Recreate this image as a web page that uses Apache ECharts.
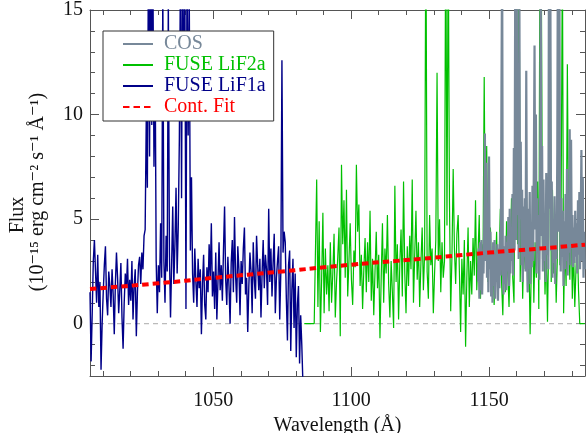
<!DOCTYPE html>
<html>
<head>
<meta charset="utf-8">
<script src="https://cdn.jsdelivr.net/npm/echarts@6/dist/echarts.min.js"></script>
<style>
  html, body { margin: 0; padding: 0; background: #fff; }
  #chart { width: 586px; height: 433px; }
</style>
</head>
<body>
<div id="chart"></div>
<script>
// wavelength grid of each spectrum: start (Å) and step (Å)
const lif1aStart = 1005.3;
const lif1aStep = 0.4;
const lif1aFlux = [
  1.5, -1.8, 0.5, 3.0, 4.0, 2.5, 1.0, 3.3, 0.8, 2.0,
  -2.2, 0.0, 1.5, 2.8, 3.7, 1.2, 0.4, 2.5, 1.8,
  0.8, 2.6, 1.4, -0.5, 1.9, 3.4, 2.2, 0.5, 1.6,
  2.9, 0.3, -1.2, 1.0, 2.4, 1.7, 3.1, 0.9, 2.1,
  1.1, 3.0, 0.2, 1.8, 2.6, -0.6, 1.5, 2.8, 3.2,
  1.9, 3.4, 2.6, 4.2,
  4.5, 9.8, 6.5, 18, 8.0, 20, 9.5, 17, 7.5, 13, 3.0,
  0.5, 2.8,
  1.5, 4.8, 2.2, 16, 3.0, 1.0, 4.2, 2.5, 15.5, 3.4, 0.3, 2.8, 5.6, 1.9, 3.8, 6.5, 2.4, 4.6,
  8.8, 17, 6.0, 19, 10, 16, 0.7, 18, 9.0, 15.5, 3.5, 7.0,
  2.4, 1.0, 3.6, 2.0, 0.8, 3.1, 1.7, 2.6, -0.5,
  1.9, 3.3, 0.9, 0.2, 2.7, 1.5, 3.8, 2.2, 4.8, 1.3,
  2.5, 0.7, 3.4, 0.2, 2.0, 3.9, 1.6, 2.8, 1.1, 3.5,
  5.6, 2.1, 0.9, 3.2, 1.8, 0.0, 2.9, 4.0, 1.5, 5.1,
  2.3, 1.0, 3.7, 2.6, 0.4, 3.0, 1.9, 3.6, 4.6, 1.4,
  2.2, -0.4, 1.8, 3.4, 2.5, 0.5, 3.9, 2.1, 1.2, 4.2,
  2.8, 1.6, 3.1, 0.3, 2.4, 4.0, 1.7, 3.3, 2.6, 0.9,
  5.5, 2.0, 3.6, 1.3, 2.9, 4.3, 0.5, 2.2, 3.0, 3.7,
  0.2, 2.5, 12.6,
  3.4, 4.4, 3.9, 1.2, -0.8, 2.8, 3.5, -1.3, 1.6, 3.1,
  -0.2, 2.4, -1.6, 0.9, 1.8, -1.9, 0.4, -1.0, -2.8
];

const lif2aStart = 1083.0;
const lif2aStep = 0.45;
const lif2aFlux = [
  0, 0, 0, 0, 0, 0, 0, 0, 0, 0,
  6.9,
  0.8, 4.9, -0.4, 2.1, 5.3, 0.5, 3.6, 1.4, 2.8, 0.6,
  3.9, 1.0, 2.4, 4.3, 0.3, 2.0, 3.2, 4.6, -0.6, 7.6,
  3.8, 5.9, 2.2, 6.4, 1.3, 3.0, 4.8, 2.1, 0.9, 3.5,
  2.7, 7.6, 4.4, 5.7, 1.8, 3.3, 0.7, 2.6, 4.1, 1.5,
  3.9, 2.0, 5.4, 1.1, 3.1, 0.4, 2.5, 4.4, 1.7, 3.3,
  -0.7, 2.2, 4.8, 1.0, 3.6, 2.4, 5.2, 1.9, 0.3, 3.0,
  1.5, -0.2, 6.6, 2.0, 3.8, 0.2, 2.9, 4.5, 1.3, 6.8,
  2.4, 0.5, 3.7, 1.8, 4.2, 2.6, 6.9, 1.0, 3.3, 5.4,
  2.1, 3.9, 0.8, 2.9, 4.6, 1.6, 3.4, 20, 2.5, 1.2,
  5.2, 2.8, 3.6, 0.5, 2.4, 4.0, 12.0, 3.0, 5.0, 1.5,
  3.9, 2.2, 3.0, 20, 4.7, 19, 5.8, 0.6, 3.2, 7.4,
  3.6, 1.9, 4.3, 5.2, 2.5, -0.4, 3.1, 1.4, 4.0, -1.1,
  2.2, 4.6, 0.8, 3.0, 1.4, 4.1, 2.3, 5.9, 1.6, 3.3,
  5.2, 1.2, 3.8, 2.6, 11.8, 3.1, 8.5, 2.0, 4.0, 4.6,
  1.9, 3.5, 0.9, 2.7, 4.4, 1.3, 3.0, 5.5, 2.0, 0.4,
  3.6, 1.5, 4.9, 2.4, 0.8, 3.3, 6.0, 2.2, 1.0, 7.9,
  18, 3.8, 20, 2.0, 5.5, 1.2, 4.0, 2.6, 6.3, 1.5,
  3.4, -0.5, 2.8, 5.1, 1.0, 3.9, 2.2, 6.8, 0.7, 20,
  17, 3.1, 5.0, 1.4, 3.6, 0.1, 4.2, 19, 2.0, 6.4,
  2.4, 4.5, 1.0, 3.3, 20, 2.8, 5.7, 18, 0.5, 3.9,
  1.8, 12.4, 4.4, 2.1, 5.6, 1.2, 3.5, 0.8, 2.7, 4.0, 1.6,
  0, 0, 0, 0, 0
];

const cosStart = 1146.0;
const cosStep = 0.25;
const cosFlux = [
  2.0, 3.6, 1.2, 3.9, 1.6, 4.0, 1.4, 3.2, 2.4, 4.5,
  9.1, 3.0, 7.7, 2.2, 5.8, 1.5, 8.0, 2.6, 4.4, 1.3,
  3.5, 1.0, 3.9, 1.8, 4.0, 1.2, 3.3, 2.0, 3.8, 1.1,
  3.6, 1.7, 4.4, 2.3, 11.0, 18, 3.0, 1.4, 3.7, 1.9,
  4.2, 1.6, 3.9, 2.5, 5.1, 1.8, 5.5, 2.4, 4.6, 3.0,
  6.2, 2.3, 8.4, 3.5, 17, 4.0, 20, 5.2, 7.8, 3.1,
  16, 5.0, 8.7, 2.8, 6.4, 2.0, 5.6, 3.2, 6.0, 2.5,
  12.1, 4.0, 1.5, 5.5, 2.6, 6.3, 1.9, 4.8, 2.7, 6.6,
  3.0, 7.5, 13.3, 4.5, 10.0, 2.4, 6.0, 3.4, 5.2, 2.1,
  5.8, 17, 4.2, 8.5, 2.5, 6.9, 3.0, 5.1, 2.0, 7.2,
  3.3, 6.5, 2.6, 19, 5.5, 16, 3.5, 6.8, 2.2, 5.0,
  2.9, 6.1, 1.9, 4.8, 3.1, 8.2, 20, 4.4, 17, 5.3,
  2.5, 6.0, 3.2, 5.4, 1.8, 4.9, 2.6, 6.2, 3.0, 7.4,
  2.3, 5.0, 3.4, 9.3, 2.8, 8.8, 3.6, 5.2, 2.7, 4.6,
  2.9, 5.4, 3.2, 4.8, 2.4, 5.9, 3.3, 6.3, 2.6, 5.0,
  8.3, 3.0, 7.0, 2.2, 4.4, 2.6
];

// continuum fit
const contWave = [1005.3, 1030, 1050, 1075, 1100, 1125, 1150, 1170, 1184.8];
const contFlux = [1.66, 1.93, 2.19, 2.50, 2.82, 3.10, 3.40, 3.61, 3.78];

// axis range and ticks
const xMin = 1005.3, xMax = 1184.8;
const yMin = -2.5, yMax = 15;
const xMajor = [1050, 1100, 1150];
const xMinor = [1010, 1020, 1030, 1040, 1060, 1070, 1080, 1090, 1110, 1120, 1130, 1140, 1160, 1170, 1180];
const yMajor = [0, 5, 10, 15];
const yMinor = [-2, -1, 1, 2, 3, 4, 6, 7, 8, 9, 11, 12, 13, 14];

const FONT = "'Liberation Serif', 'DejaVu Serif', serif";
const FRAME = '#555';

function pairs(start, step, flux) {
  return flux.map((v, i) => [+(start + i * step).toFixed(3), v]);
}

function axisDef(kind, position, ticks, len, withLine, withLabels) {
  return {
    type: 'value',
    min: kind === 'x' ? xMin : yMin,
    max: kind === 'x' ? xMax : yMax,
    position: position,
    axisLine: { show: withLine, onZero: false, lineStyle: { color: FRAME, width: 1 } },
    axisTick: { show: true, inside: true, length: len, customValues: ticks, lineStyle: { color: FRAME } },
    axisLabel: withLabels
      ? {
          show: true, customValues: ticks, fontFamily: FONT, fontSize: 20, color: '#111',
          margin: kind === 'x' ? 15 : 7,
          formatter: (v) => String(v)
        }
      : { show: false },
    splitLine: { show: false }
  };
}

const chart = echarts.init(document.getElementById('chart'), null, { renderer: 'canvas' });

const xMain = axisDef('x', 'bottom', xMajor, 9, true, true);
xMain.name = 'Wavelength (Å)';
xMain.nameLocation = 'middle';
xMain.nameGap = 40;
xMain.nameTextStyle = { fontFamily: FONT, fontSize: 20, color: '#111' };

chart.setOption({
  animation: false,
  backgroundColor: '#fff',
  grid: { left: 90, right: 1, top: 10, bottom: 57, containLabel: false, outerBoundsMode: 'none' },
  xAxis: [
    xMain,
    axisDef('x', 'bottom', xMinor, 5, false, false),
    axisDef('x', 'top', xMajor, 9, true, false),
    axisDef('x', 'top', xMinor, 5, false, false)
  ],
  yAxis: [
    axisDef('y', 'left', yMajor, 9, true, true),
    axisDef('y', 'left', yMinor, 5, false, false),
    axisDef('y', 'right', yMajor, 9, true, false),
    axisDef('y', 'right', yMinor, 5, false, false)
  ],
  legend: {
    orient: 'vertical',
    left: 103,
    top: 31,
    itemWidth: 30,
    itemHeight: 14,
    itemGap: 1,
    padding: [3, 8, 4, 19],
    backgroundColor: '#fff',
    borderColor: '#333',
    borderWidth: 1,
    borderRadius: 0,
    itemStyle: { opacity: 0 },
    textStyle: { fontFamily: FONT, fontSize: 20, padding: [0, 0, 0, 6] },
    data: [
      { name: 'COS', textStyle: { color: '#778899' } },
      { name: 'FUSE LiF2a', textStyle: { color: '#00c000' } },
      { name: 'FUSE LiF1a', textStyle: { color: '#000088' } },
      { name: 'Cont. Fit', textStyle: { color: '#ff0000' } }
    ]
  },
  graphic: [
    {
      type: 'text', x: 18, y: 215, rotation: Math.PI / 2,
      style: { text: 'Flux', font: '20px ' + FONT, fill: '#111', align: 'center', verticalAlign: 'middle' }
    },
    {
      type: 'text', x: 38, y: 192, rotation: Math.PI / 2,
      style: { text: '(10⁻¹⁵ erg cm⁻² s⁻¹ Å⁻¹)', font: '20px ' + FONT, fill: '#111', align: 'center', verticalAlign: 'middle' }
    }
  ],
  series: [
    {
      name: 'zero', type: 'line', symbol: 'none', silent: true,
      data: [[xMin, 0], [xMax, 0]],
      lineStyle: { color: '#aaa', width: 1, type: [5, 4] },
      z: 1
    },
    {
      name: 'FUSE LiF1a', type: 'line', symbol: 'none',
      data: pairs(lif1aStart, lif1aStep, lif1aFlux),
      lineStyle: { color: '#000088', width: 1.4 },
      itemStyle: { color: '#000088' },
      z: 2
    },
    {
      name: 'FUSE LiF2a', type: 'line', symbol: 'none',
      data: pairs(lif2aStart, lif2aStep, lif2aFlux),
      lineStyle: { color: '#00c000', width: 1.2 },
      itemStyle: { color: '#00c000' },
      z: 3
    },
    {
      name: 'COS', type: 'line', symbol: 'none',
      data: pairs(cosStart, cosStep, cosFlux),
      lineStyle: { color: '#778899', width: 2.2 },
      itemStyle: { color: '#778899' },
      z: 4
    },
    {
      name: 'Cont. Fit', type: 'line', symbol: 'none', smooth: true,
      data: contWave.map((w, i) => [w, contFlux[i]]),
      lineStyle: { color: '#ff0000', width: 4, type: [6.5, 4] },
      itemStyle: { color: '#ff0000' },
      z: 5
    }
  ]
});
</script>
</body>
</html>
